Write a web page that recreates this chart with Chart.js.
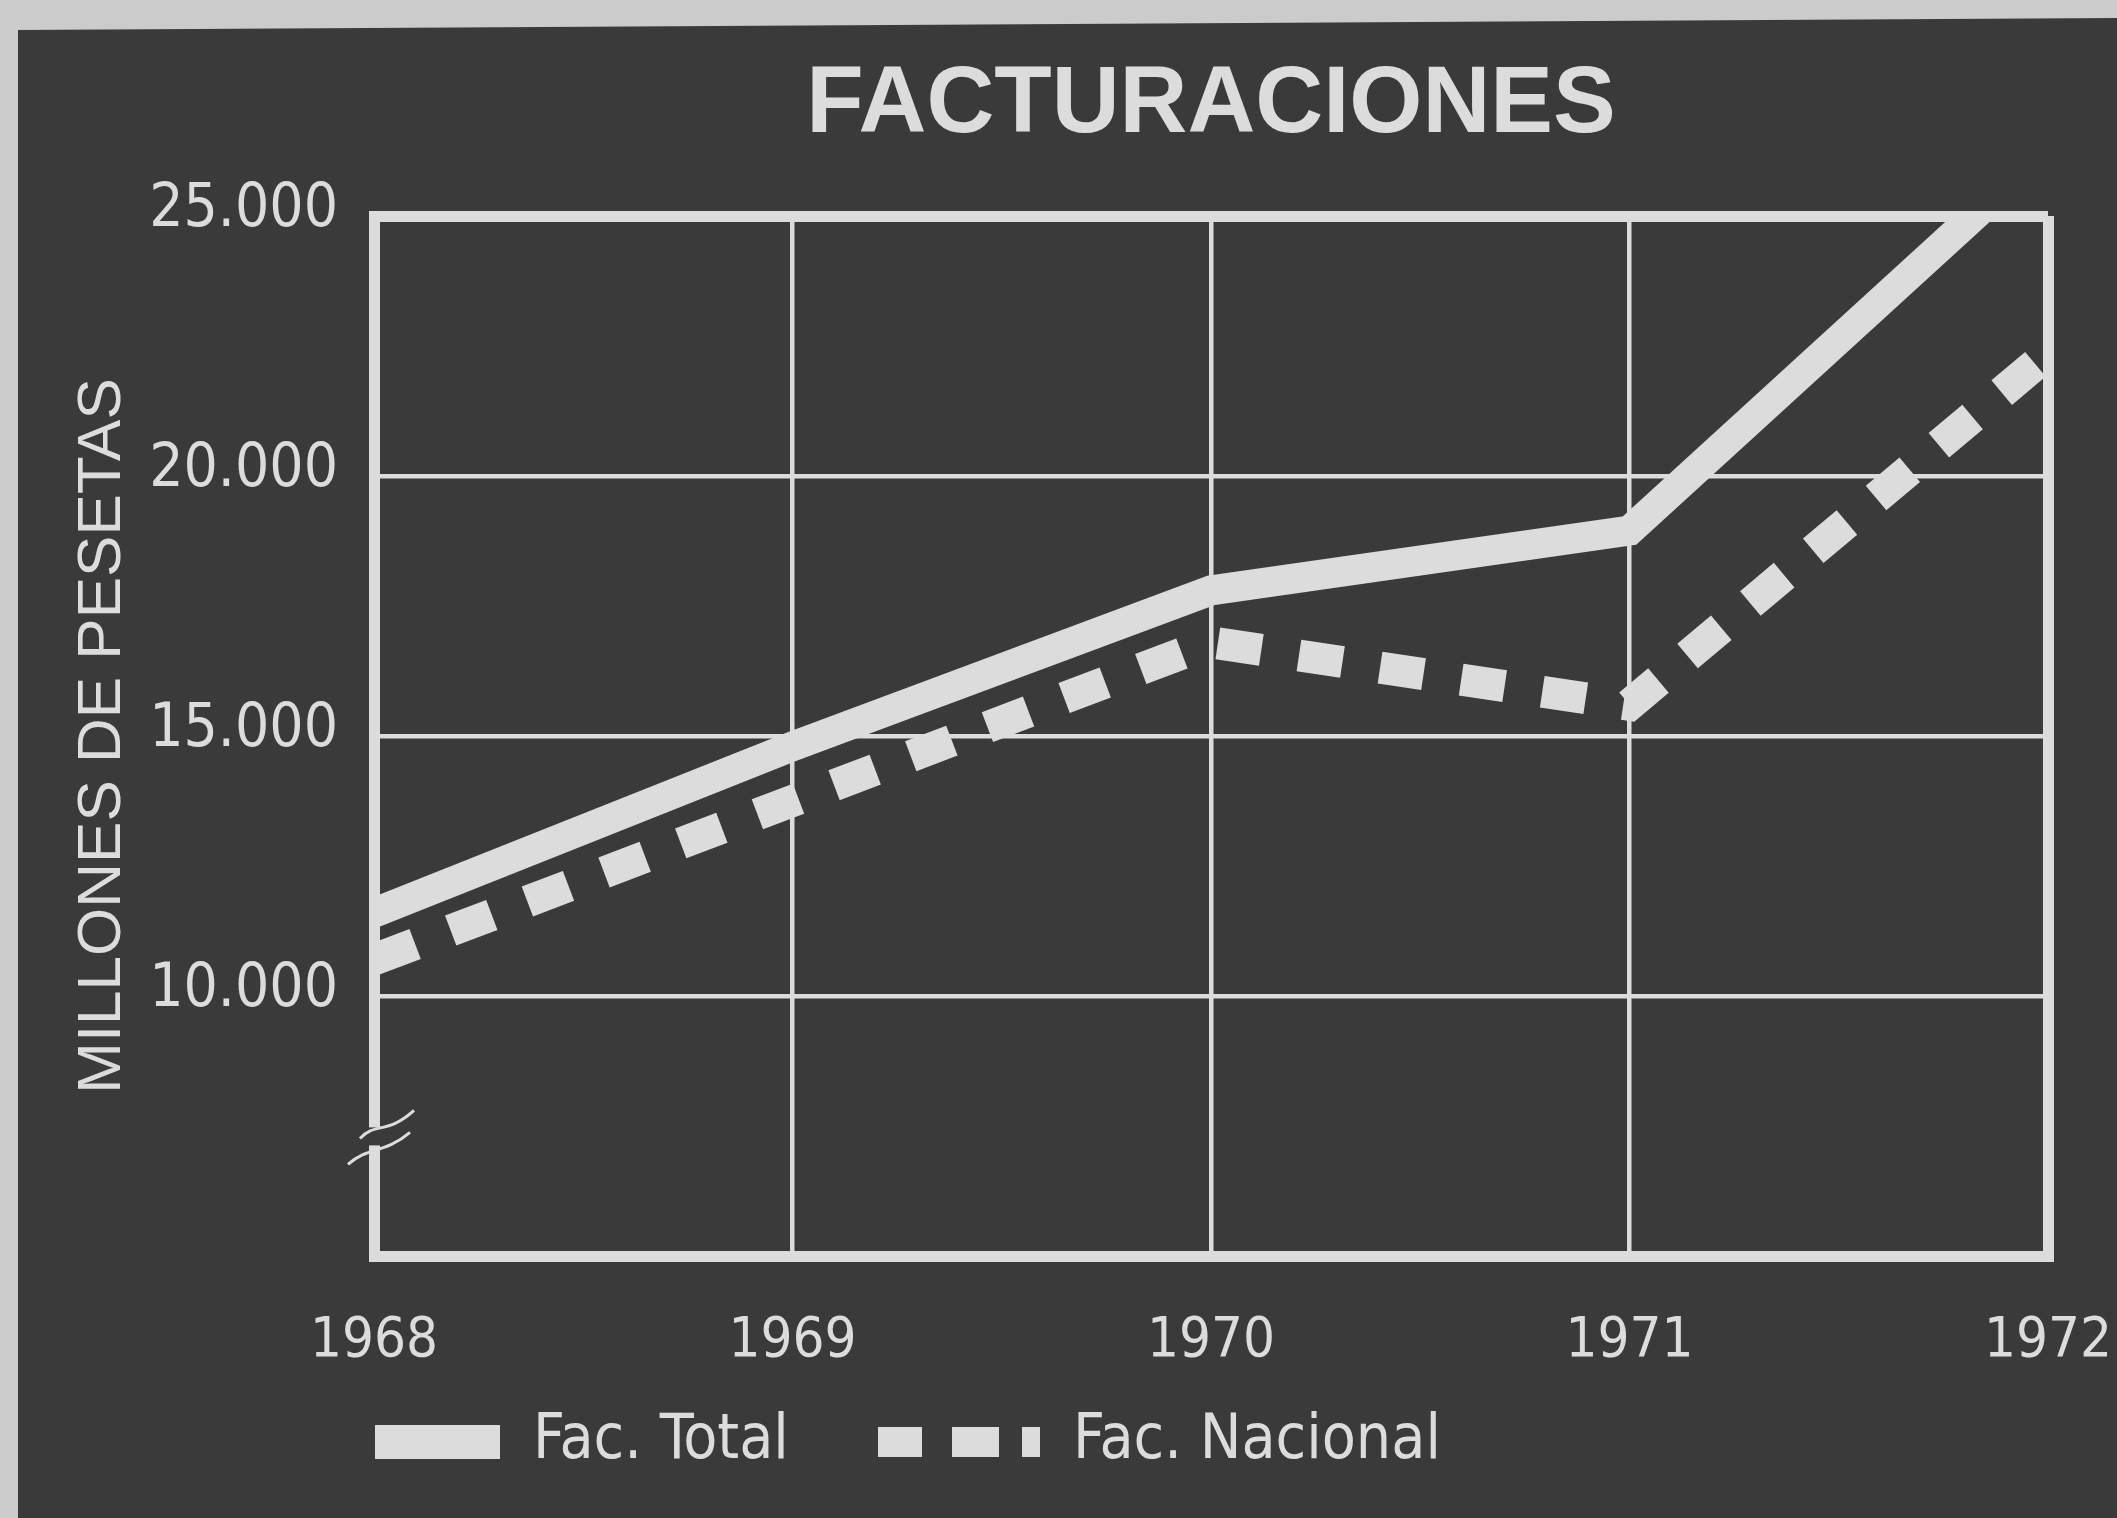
<!DOCTYPE html>
<html>
<head>
<meta charset="utf-8">
<title>Facturaciones</title>
<script src="https://cdn.jsdelivr.net/npm/chart.js@4.4.0/dist/chart.umd.min.js"></script>
<style>
  html, body { margin: 0; padding: 0; background: #cbcbcb; }
  #wrap { position: relative; width: 2117px; height: 1518px; }
</style>
</head>
<body>
<div id="wrap"><canvas id="facturacionesChart"></canvas></div>
<script>
// values (millones de pesetas)
const years = ['1968', '1969', '1970', '1971', '1972'];
const facTotal = [11600, 14800, 17800, 18950, 26300];
const facNacional = [10700, 13750, 16800, 15600, 22350];
const yTickValues = [5000, 10000, 15000, 20000, 25000];
const yTickLabels = ['', '10.000', '15.000', '20.000', '25.000'];
const chartTitle = 'FACTURACIONES';
const yAxisTitle = 'MILLONES DE PESETAS';
const legendLabels = ['Fac. Total', 'Fac. Nacional'];

const ink = '#dcdcdc';
const panel = '#3a3a3a';
const narrow = '"Liberation Sans Narrow", "DejaVu Sans Condensed", "Liberation Sans", sans-serif';
const wide = '"Liberation Sans", Arial, sans-serif';

// light paper edge and dark printed panel
const paperPlugin = {
    id: 'paper',
    beforeDraw(chart) {
        const ctx = chart.ctx;
        ctx.save();
        ctx.fillStyle = '#cbcbcb';
        ctx.fillRect(0, 0, chart.width, chart.height);
        ctx.fillStyle = panel;
        ctx.beginPath();
        ctx.moveTo(18, 30);
        ctx.lineTo(chart.width, 18);
        ctx.lineTo(chart.width, chart.height);
        ctx.lineTo(18, chart.height);
        ctx.closePath();
        ctx.fill();
        ctx.restore();
    }
};

// title, legend and the axis break mark
const decorPlugin = {
    id: 'decor',
    afterDraw(chart) {
        const ctx = chart.ctx;
        const area = chart.chartArea;
        ctx.save();
        ctx.fillStyle = ink;
        ctx.textBaseline = 'middle';

        ctx.font = 'bold 94px ' + wide;
        ctx.textAlign = 'center';
        ctx.fillText(chartTitle, (area.left + area.right) / 2, 106);

        // legend
        const ly = 1442;
        ctx.fillRect(375, ly - 17, 125, 34);
        ctx.font = '62px ' + narrow;
        ctx.textAlign = 'left';
        ctx.fillText(legendLabels[0], 533, ly);
        [[878, 922], [952, 999], [1022, 1040]].forEach(function (p) {
            ctx.fillRect(p[0], ly - 15, p[1] - p[0], 30);
        });
        ctx.fillText(legendLabels[1], 1073, ly);

        // break on the y axis
        const yb = chart.scales.y.getPixelForValue(7300);
        const x = area.left;
        ctx.fillStyle = panel;
        ctx.fillRect(x - 8, yb - 9, 16, 18);
        ctx.strokeStyle = ink;
        ctx.lineWidth = 3;
        ctx.beginPath();
        ctx.moveTo(x - 14, yb + 2);
        ctx.bezierCurveTo(x, yb - 14, x + 14, yb - 2, x + 40, yb - 26);
        ctx.moveTo(x - 26, yb + 28);
        ctx.bezierCurveTo(x - 6, yb + 10, x + 10, yb + 18, x + 36, yb - 4);
        ctx.stroke();
        ctx.restore();
    }
};

const ctx = document.getElementById('facturacionesChart').getContext('2d');
const facturacionesChart = new Chart(ctx, {
    type: 'line',
    data: {
        labels: years,
        datasets: [{
            label: legendLabels[0],
            data: facTotal,
            borderColor: ink,
            borderWidth: 30,
            borderCapStyle: 'butt',
            borderJoinStyle: 'miter',
            pointRadius: 0,
            tension: 0,
            clip: 0
        }, {
            label: legendLabels[1],
            data: facNacional,
            borderColor: ink,
            borderWidth: 32,
            borderDash: [44, 38],
            borderCapStyle: 'butt',
            borderJoinStyle: 'miter',
            pointRadius: 0,
            tension: 0,
            clip: 0
        }]
    },
    options: {
        responsive: true,
        maintainAspectRatio: false,
        animation: false,
        layout: {
            padding: { top: 216, right: 69, bottom: 0, left: 0 }
        },
        plugins: {
            legend: { display: false },
            title: { display: false },
            tooltip: { enabled: false }
        },
        scales: {
            x: {
                grid: {
                    color: ink,
                    lineWidth: c => (c.index === 0 || c.index === years.length - 1) ? 11 : 4.5,
                    drawTicks: false
                },
                border: { display: true, color: ink, width: 11 },
                ticks: {
                    color: ink,
                    font: { family: narrow, size: 56 },
                    padding: 52,
                    labelOffset: 0,
                    maxRotation: 0,
                    autoSkip: false
                },
                afterFit: s => {
                    s.height = 262;
                    s.paddingLeft = 0;
                    s.paddingRight = 0;
                }
            },
            y: {
                min: 5000,
                max: 25000,
                afterBuildTicks: s => { s.ticks = yTickValues.map(v => ({ value: v })); },
                grid: {
                    color: ink,
                    lineWidth: c => (c.tick && (c.tick.value === 5000 || c.tick.value === 25000)) ? 11 : 4.5,
                    drawTicks: false
                },
                border: { display: true, color: ink, width: 11 },
                ticks: {
                    color: ink,
                    font: { family: narrow, size: 60 },
                    padding: 36,
                    labelOffset: -6,
                    callback: v => yTickLabels[yTickValues.indexOf(v)]
                },
                title: {
                    display: true,
                    text: yAxisTitle,
                    color: ink,
                    font: { family: wide, size: 62 },
                    padding: { top: 66, bottom: 0 }
                },
                afterFit: s => { s.width = 374; }
            }
        }
    },
    plugins: [paperPlugin, decorPlugin]
});
</script>
</body>
</html>
